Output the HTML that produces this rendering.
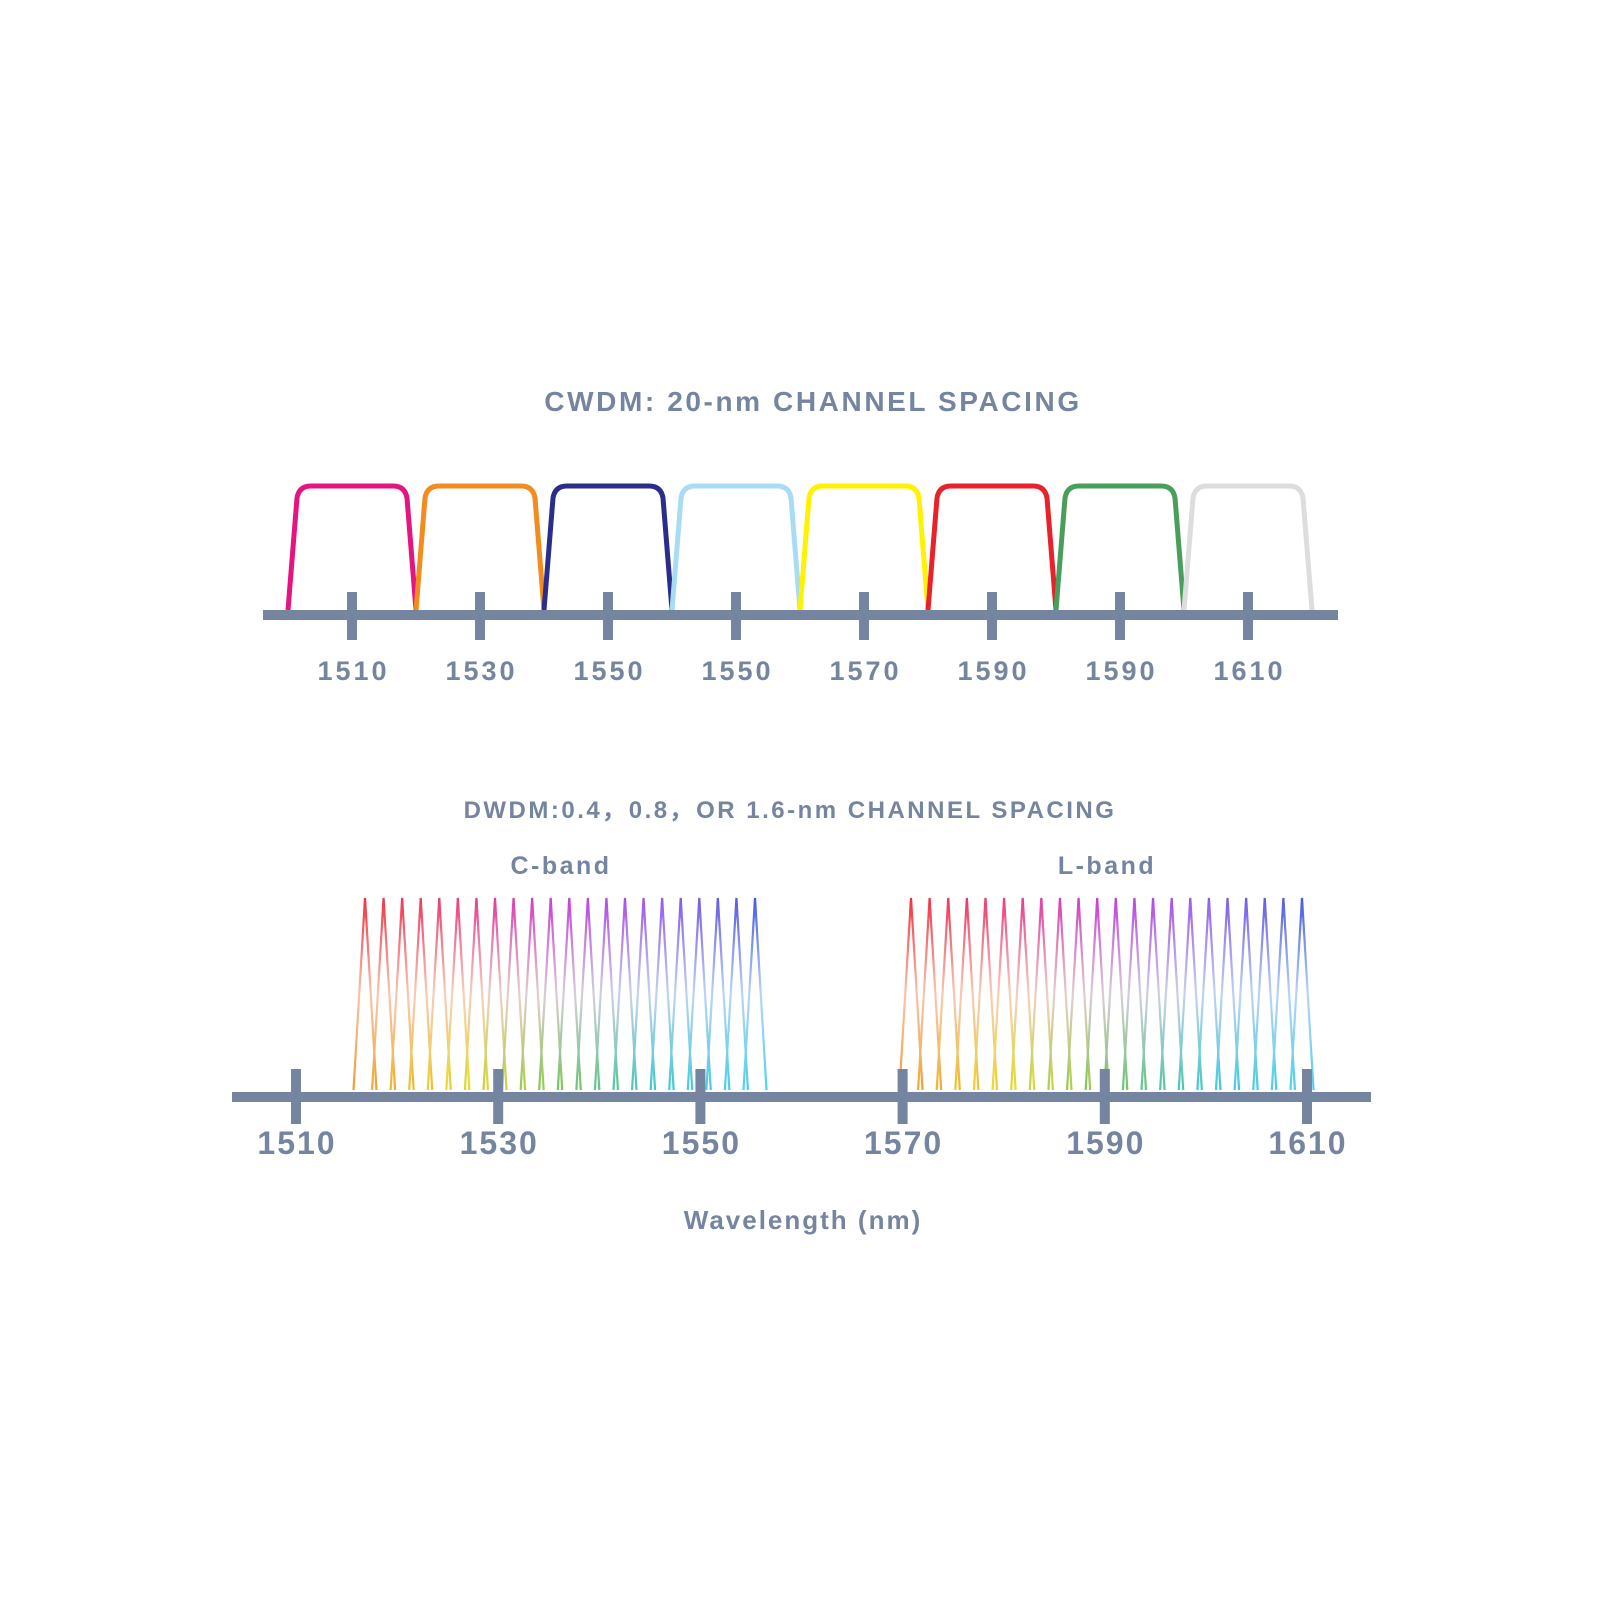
<!DOCTYPE html>
<html><head><meta charset="utf-8"><style>
html,body{margin:0;padding:0;background:#fff;}
svg{display:block}
text{font-family:"Liberation Sans",Arial,sans-serif;font-weight:bold;fill:#7585a0;}
</style></head><body>
<svg id="s" width="1600" height="1600" viewBox="0 0 1600 1600" xmlns="http://www.w3.org/2000/svg">
<defs id="d"></defs>
<text x="813" y="411" font-size="28" letter-spacing="2.6" text-anchor="middle">CWDM: 20-nm CHANNEL SPACING</text>
<g id="filters" fill="none" stroke-width="5" stroke-linejoin="round"></g>
<rect x="263" y="610" width="1075" height="10" fill="#7585a0"/>
<g id="ticks1" fill="#7585a0"></g>
<g id="labels1" font-size="27" letter-spacing="3" text-anchor="middle"></g>

<text x="790" y="818" font-size="24" letter-spacing="2.5" text-anchor="middle">DWDM:0.4，0.8，OR 1.6-nm CHANNEL SPACING</text>
<text x="561" y="874" font-size="25" letter-spacing="2.5" text-anchor="middle">C-band</text>
<text x="1107" y="874" font-size="25" letter-spacing="2.5" text-anchor="middle">L-band</text>
<g id="spikes" fill="none" stroke-width="2.2"></g>
<rect x="232" y="1092" width="1139" height="10" fill="#7585a0"/>
<g id="ticks2" fill="#7585a0"></g>
<g id="labels2" font-size="32" letter-spacing="2" text-anchor="middle"></g>
<text x="803" y="1229" font-size="26" letter-spacing="2" text-anchor="middle">Wavelength (nm)</text>
</svg>
<script>
var NS="http://www.w3.org/2000/svg";
function el(t,a,p){var e=document.createElementNS(NS,t);for(var k in a)e.setAttribute(k,a[k]);p.appendChild(e);return e;}
var cols=["#e6147f","#f28c1e","#2a2d8a","#a8dcf5","#fff200","#e8212a","#4a9e5c","#dddddd"];
var labs=["1510","1530","1550","1550","1570","1590","1590","1610"];
var F=document.getElementById("filters"),T1=document.getElementById("ticks1"),L1=document.getElementById("labels1");
for(var i=0;i<8;i++){
 var x=288+128*i;
 el("path",{d:"M"+x+",610 L"+(x+9)+",498 Q"+(x+11)+",486 "+(x+23)+",486 L"+(x+105)+",486 Q"+(x+117)+",486 "+(x+119)+",498 L"+(x+128)+",610",stroke:cols[i]},F);
 var tx=352+128*i;
 el("rect",{x:tx-5,y:592,width:10,height:48},T1);
 var t=el("text",{x:tx+1.5,y:680},L1);t.textContent=labs[i];
}
var T2=document.getElementById("ticks2"),L2=document.getElementById("labels2");
var bl=["1510","1530","1550","1570","1590","1610"];
for(var i=0;i<6;i++){
 var tx=296+202.2*i;
 el("rect",{x:tx-5,y:1069,width:10,height:55},T2);
 var t=el("text",{x:tx+1,y:1154},L2);t.textContent=bl[i];
}
function lerp(a,b,t){return a+(b-a)*t;}
function mixA(c1,c2,t){return [lerp(c1[0],c2[0],t),lerp(c1[1],c2[1],t),lerp(c1[2],c2[2],t)];}
function rgb(c){return "rgb("+Math.round(c[0])+","+Math.round(c[1])+","+Math.round(c[2])+")";}
function grad(stops,t){var n=stops.length-1,f=t*n,i=Math.min(Math.floor(f),n-1);return mixA(stops[i],stops[i+1],f-i);}
var topS=[[240,50,60],[235,60,130],[200,60,220],[150,90,235],[70,90,225]];
var botS=[[240,160,50],[235,220,40],[120,195,90],[60,200,210],[80,210,235]];
var D=document.getElementById("d"),S=document.getElementById("spikes");
var gid=0;
function band(x0,x1){
 var n=22,sp=(x1-x0)/(n-1);
 for(var i=0;i<n;i++){
  var p=x0+sp*i,t=i/(n-1);
  var tc=grad(topS,t),bc=grad(botS,t);
  var g=el("linearGradient",{id:"g"+gid,x1:"0",y1:"0",x2:"0",y2:"1"},D);
  el("stop",{offset:"0","stop-color":rgb(tc)},g);
  el("stop",{offset:"0.5","stop-color":rgb(mixA(mixA(tc,bc,0.5),[255,255,255],0.6))},g);
  el("stop",{offset:"1","stop-color":rgb(bc)},g);
  var w=sp*0.62;
  el("path",{d:"M"+(p-w)+",1090 L"+p+",898 L"+(p+w)+",1090",stroke:"url(#g"+gid+")"},S);
  gid++;
 }
}
band(365,755);
band(911,1302);
</script>
</body></html>
